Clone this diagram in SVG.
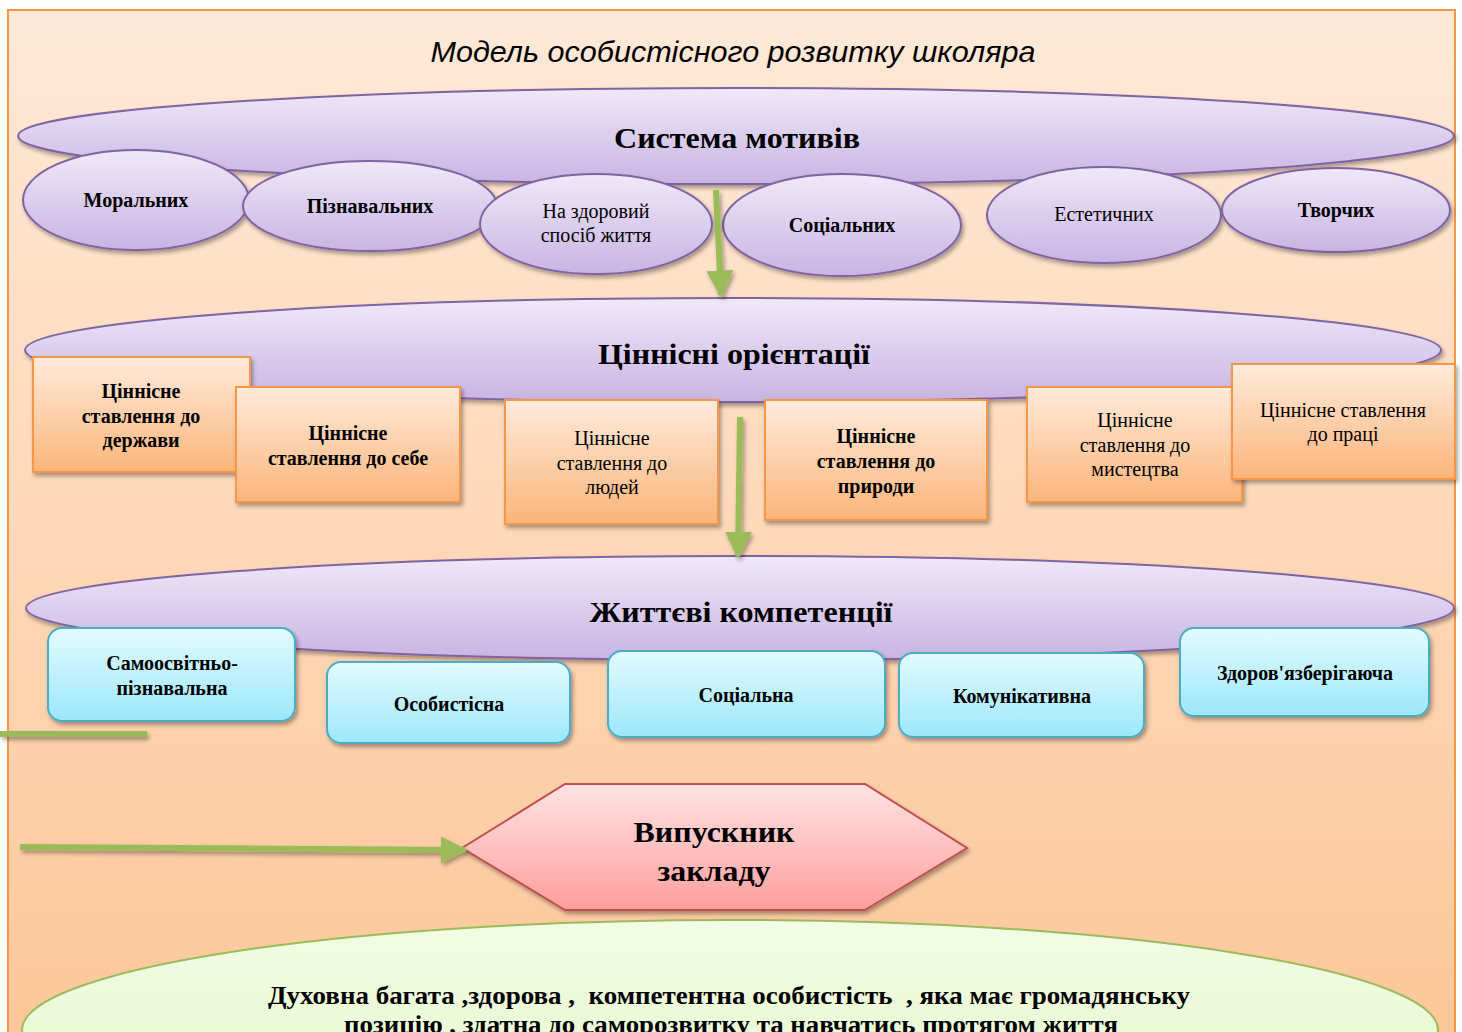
<svg xmlns="http://www.w3.org/2000/svg" width="1462" height="1032" viewBox="0 0 1462 1032">
<defs>
<linearGradient id="bg" x1="0" y1="0" x2="0" y2="1"><stop offset="0" stop-color="#FEE9D8"/><stop offset="1" stop-color="#FCC79A"/></linearGradient>
<linearGradient id="lav" x1="0" y1="0" x2="0" y2="1"><stop offset="0" stop-color="#EFE9F8"/><stop offset="1" stop-color="#C8B4E3"/></linearGradient>
<linearGradient id="org" x1="0" y1="0" x2="0" y2="1"><stop offset="0" stop-color="#FFEBDC"/><stop offset="1" stop-color="#FBB57A"/></linearGradient>
<linearGradient id="blu" x1="0" y1="0" x2="0" y2="1"><stop offset="0" stop-color="#E3FBFF"/><stop offset="1" stop-color="#9CE7FA"/></linearGradient>
<linearGradient id="pnk" x1="0" y1="0" x2="0" y2="1"><stop offset="0" stop-color="#FFE3E3"/><stop offset="1" stop-color="#FF9E9E"/></linearGradient>
<linearGradient id="grn" x1="0" y1="0" x2="0" y2="1"><stop offset="0" stop-color="#F3FCE6"/><stop offset="1" stop-color="#E2F7C7"/></linearGradient>
<filter id="sh" x="-10%" y="-10%" width="120%" height="130%"><feDropShadow dx="2" dy="3" stdDeviation="2" flood-color="#000" flood-opacity="0.35"/></filter>
<marker id="ah" viewBox="0 0 10 10" refX="9" refY="5" markerWidth="4.5" markerHeight="4.5" orient="auto" markerUnits="strokeWidth"><path d="M0,0 L10,5 L0,10 z" fill="#9BBB59"/></marker>
<style>
.lav{fill:url(#lav);stroke:#8064A2;stroke-width:2;filter:url(#sh)}
.org{fill:url(#org);stroke:#F79646;stroke-width:2;filter:url(#sh)}
.blu{fill:url(#blu);stroke:#4BACC6;stroke-width:2;filter:url(#sh)}
.t{font-family:"Liberation Serif","Times New Roman",serif;fill:#000;text-anchor:middle}
.b{font-weight:bold}
.big{font-size:30px;font-weight:bold}
.m{font-size:20px}
.pre{white-space:pre}
.arr{stroke:#9BBB59;stroke-width:6;fill:none}
</style>
</defs>
<rect x="8" y="10" width="1447" height="1030" fill="url(#bg)" stroke="#F79646" stroke-width="2"/>
<text x="733" y="62" font-family="Liberation Sans, Arial, sans-serif" font-style="italic" font-size="30" text-anchor="middle" textLength="605" lengthAdjust="spacingAndGlyphs">Модель особистісного розвитку школяра</text>

<g id="motives">
<ellipse class="lav" cx="736" cy="136" rx="718" ry="48"/>
<text class="t big" x="737" y="148" textLength="246" lengthAdjust="spacingAndGlyphs">Система мотивів</text>
</g>
<g id="m1"><ellipse class="lav" cx="136" cy="200" rx="113" ry="50"/><text class="t b m" x="136" y="207">Моральних</text></g>
<g id="m2"><ellipse class="lav" cx="370" cy="206" rx="127" ry="45"/><text class="t b m" x="370" y="213">Пізнавальних</text></g>
<g id="m3"><ellipse class="lav" cx="596" cy="224" rx="116" ry="50"/><text class="t m" x="596" y="218">На здоровий</text><text class="t m" x="596" y="242">спосіб життя</text></g>
<g id="m4"><ellipse class="lav" cx="842" cy="225" rx="119" ry="51"/><text class="t b m" x="842" y="232">Соціальних</text></g>
<g id="m5"><ellipse class="lav" cx="1104" cy="215" rx="117" ry="48"/><text class="t m" x="1104" y="221">Естетичних</text></g>
<g id="m6"><ellipse class="lav" cx="1336" cy="210" rx="114" ry="42"/><text class="t b m" x="1336" y="217">Творчих</text></g>

<g id="values">
<ellipse class="lav" cx="733" cy="350" rx="708" ry="52"/>
<text class="t big" x="734" y="364" textLength="272" lengthAdjust="spacingAndGlyphs">Ціннісні орієнтації</text>
</g>
<g id="v1"><rect class="org" x="33" y="357" width="217" height="115"/><text class="t b m" x="141" y="398">Ціннісне</text><text class="t b m" x="141" y="423">ставлення до</text><text class="t b m" x="141" y="447">держави</text></g>
<g id="v2"><rect class="org" x="236" y="387" width="224" height="115"/><text class="t b m" x="348" y="440">Ціннісне</text><text class="t b m" x="348" y="465">ставлення до себе</text></g>
<g id="v3"><rect class="org" x="505" y="400" width="213" height="124"/><text class="t m" x="612" y="445">Ціннісне</text><text class="t m" x="612" y="470">ставлення до</text><text class="t m" x="612" y="494">людей</text></g>
<g id="v4"><rect class="org" x="765" y="400" width="222" height="120"/><text class="t b m" x="876" y="443">Ціннісне</text><text class="t b m" x="876" y="468">ставлення до</text><text class="t b m" x="876" y="493">природи</text></g>
<g id="v5"><rect class="org" x="1027" y="387" width="215" height="115"/><text class="t m" x="1135" y="427">Ціннісне</text><text class="t m" x="1135" y="452">ставлення до</text><text class="t m" x="1135" y="476">мистецтва</text></g>
<g id="v6"><rect class="org" x="1232" y="364" width="223" height="115"/><text class="t m" x="1343" y="417">Ціннісне ставлення</text><text class="t m" x="1343" y="441">до праці</text></g>

<g id="competences">
<ellipse class="lav" cx="740" cy="608" rx="714" ry="52"/>
<text class="t big" x="741" y="622" textLength="303" lengthAdjust="spacingAndGlyphs">Життєві компетенції</text>
</g>
<g id="c1"><rect class="blu" x="48" y="628" width="247" height="93" rx="14"/><text class="t b m" x="172" y="670">Самоосвітньо-</text><text class="t b m" x="172" y="695">пізнавальна</text></g>
<g id="c2"><rect class="blu" x="327" y="662" width="243" height="81" rx="14"/><text class="t b m" x="449" y="711">Особистісна</text></g>
<g id="c3"><rect class="blu" x="608" y="651" width="277" height="86" rx="14"/><text class="t b m" x="746" y="702">Соціальна</text></g>
<g id="c4"><rect class="blu" x="899" y="653" width="245" height="84" rx="14"/><text class="t b m" x="1022" y="703">Комунікативна</text></g>
<g id="c5"><rect class="blu" x="1180" y="628" width="249" height="88" rx="14"/><text class="t b m" x="1305" y="680">Здоров'язберігаюча</text></g>

<g id="graduate">
<polygon points="462,848 565,784 865,784 967,848 865,910 565,910" fill="url(#pnk)" stroke="#C0504D" stroke-width="2" filter="url(#sh)"/>
<text class="t big" x="714" y="842" textLength="161" lengthAdjust="spacingAndGlyphs">Випускник</text>
<text class="t big" x="714" y="881" textLength="113" lengthAdjust="spacingAndGlyphs">закладу</text>
</g>

<g id="result">
<ellipse cx="730" cy="1030" rx="708" ry="110" fill="url(#grn)" stroke="#9BBB59" stroke-width="2"/>
<text class="t b pre" font-size="25" x="729" y="1004" textLength="922" lengthAdjust="spacingAndGlyphs">Духовна багата ,здорова ,  компетентна особистість  , яка має громадянську</text>
<text class="t b pre" font-size="25" x="731" y="1033" textLength="774" lengthAdjust="spacingAndGlyphs">позицію , здатна до саморозвитку та навчатись протягом життя</text>
</g>

<g id="connectors" filter="url(#sh)">
<line class="arr" x1="716" y1="190" x2="721" y2="295" marker-end="url(#ah)"/>
<line class="arr" x1="740" y1="417" x2="738" y2="556" marker-end="url(#ah)"/>
<line class="arr" x1="0" y1="734" x2="147" y2="734"/>
<line class="arr" x1="20" y1="847" x2="465" y2="850" marker-end="url(#ah)"/>
</g>
</svg>
